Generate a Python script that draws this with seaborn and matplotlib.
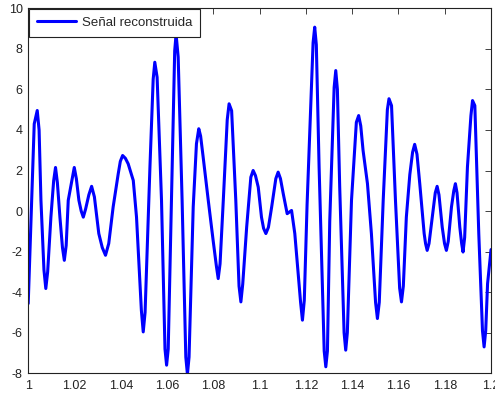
import matplotlib
matplotlib.use("Agg")
import matplotlib.pyplot as plt
import seaborn as sns
import pandas as pd
from matplotlib.ticker import FuncFormatter

t = [1.0000, 1.0015, 1.0026, 1.0039, 1.0047, 1.0055, 1.0068, 1.0076, 1.0084, 1.0098,
     1.0110, 1.0118, 1.0126, 1.0137, 1.0148, 1.0156, 1.0164, 1.0173, 1.0190, 1.0199,
     1.0208, 1.0219, 1.0229, 1.0238, 1.0248, 1.0262, 1.0274, 1.0286, 1.0305, 1.0320,
     1.0334, 1.0348, 1.0367, 1.0389, 1.0398, 1.0408, 1.0420, 1.0432, 1.0454, 1.0468,
     1.0489, 1.0497, 1.0505, 1.0526, 1.0540, 1.0547, 1.0557, 1.0576, 1.0591, 1.0598,
     1.0605, 1.0619, 1.0633, 1.0639, 1.0648, 1.0665, 1.0681, 1.0688, 1.0695, 1.0713,
     1.0727, 1.0737, 1.0745, 1.0756, 1.0778, 1.0799, 1.0813, 1.0821, 1.0829, 1.0843,
     1.0860, 1.0868, 1.0879, 1.0897, 1.0911, 1.0919, 1.0927, 1.0944, 1.0962, 1.0972,
     1.0982, 1.0994, 1.1008, 1.1017, 1.1027, 1.1038, 1.1052, 1.1070, 1.1080, 1.1090,
     1.1102, 1.1119, 1.1138, 1.1152, 1.1177, 1.1185, 1.1193, 1.1205, 1.1231, 1.1238,
     1.1245, 1.1257, 1.1279, 1.1286, 1.1293, 1.1303, 1.1322, 1.1329, 1.1336, 1.1346,
     1.1365, 1.1372, 1.1379, 1.1397, 1.1418, 1.1428, 1.1437, 1.1447, 1.1466, 1.1483,
     1.1501, 1.1509, 1.1517, 1.1534, 1.1552, 1.1559, 1.1570, 1.1587, 1.1605, 1.1613,
     1.1621, 1.1634, 1.1649, 1.1661, 1.1670, 1.1680, 1.1692, 1.1711, 1.1717, 1.1724,
     1.1732, 1.1746, 1.1759, 1.1767, 1.1775, 1.1789, 1.1799, 1.1807, 1.1815, 1.1829,
     1.1839, 1.1846, 1.1853, 1.1865, 1.1873, 1.1879, 1.1886, 1.1898, 1.1913, 1.1920,
     1.1930, 1.1947, 1.1963, 1.1970, 1.1977, 1.1985, 1.2000]
senal = [-4.56, 0.50, 4.30, 4.96, 4.00, 0.53, -2.90, -3.82, -3.00, -0.30,
         1.50, 2.15, 1.40, -0.30, -1.80, -2.43, -1.70, 0.53, 1.60, 2.15,
         1.60, 0.53, 0.00, -0.30, 0.10, 0.80, 1.22, 0.70, -1.11, -1.80,
         -2.18, -1.60, 0.20, 1.84, 2.45, 2.74, 2.60, 2.33, 1.51, -0.30,
         -4.90, -5.96, -5.00, 2.17, 6.50, 7.34, 6.60, 0.53, -6.80, -7.60,
         -6.80, 0.53, 7.90, 8.72, 7.60, 0.53, -7.20, -8.05, -7.20, 0.20,
         3.32, 4.06, 3.70, 2.66, 0.53, -1.44, -2.70, -3.33, -2.60, 0.53,
         4.50, 5.29, 4.95, 0.53, -3.70, -4.48, -3.60, -0.79, 1.67, 2.00,
         1.75, 1.18, -0.30, -0.85, -1.11, -0.80, 0.20, 1.60, 1.92, 1.60,
         0.86, -0.13, 0.03, -1.11, -4.50, -5.38, -4.40, 0.30, 8.30, 9.07,
         8.20, 2.17, -6.90, -7.68, -6.90, -0.50, 6.10, 6.93, 6.00, 1.20,
         -6.00, -6.86, -6.00, 0.53, 4.38, 4.71, 4.20, 2.99, 1.35, -1.11,
         -4.50, -5.30, -4.50, 0.53, 5.00, 5.54, 5.20, 0.53, -3.80, -4.48,
         -3.70, -0.30, 1.80, 2.90, 3.29, 2.80, 1.35, -1.11, -1.60, -1.94,
         -1.60, -0.30, 0.90, 1.22, 0.80, -0.79, -1.60, -1.94, -1.50, 0.20,
         1.00, 1.35, 0.90, -0.79, -1.60, -2.02, -1.30, 2.17, 4.70, 5.45,
         5.20, -1.11, -5.90, -6.70, -5.90, -3.58, -1.90]
label = "Señal reconstruida"
xticks = [1.0, 1.02, 1.04, 1.06, 1.08, 1.1, 1.12, 1.14, 1.16, 1.18, 1.2]
yticks = [-8, -6, -4, -2, 0, 2, 4, 6, 8, 10]

sns.set_style("white")
plt.rcParams["font.family"] = ["Liberation Sans", "DejaVu Sans"]

df = pd.DataFrame({"t": t, "y": senal, "serie": label})

fig = plt.figure(figsize=(4.95, 3.95), dpi=100)
ax = fig.add_axes([0.057, 0.055, 0.935, 0.924])
sns.lineplot(data=df, x="t", y="y", hue="serie", palette=["#0000ff"],
             linewidth=2.2, ax=ax, sort=False)
ax.set_xlim(1.0, 1.2)
ax.set_ylim(-8, 10)
ax.set_xticks(xticks)
ax.set_yticks(yticks)
ax.xaxis.set_major_formatter(FuncFormatter(lambda v, p: "%g" % round(v, 4)))
ax.yaxis.set_major_formatter(FuncFormatter(lambda v, p: "%g" % v))
ax.tick_params(direction="in", length=4, width=0.6, top=True, right=True,
               labelsize=9, colors="#222222", pad=4)
ax.tick_params(axis="x", pad=5)
for s in ax.spines.values():
    s.set_visible(True)
    s.set_color("#222222")
    s.set_linewidth(0.8)
ax.set_xlabel("")
ax.set_ylabel("")
leg = ax.legend(loc="upper left", fontsize=9.5, frameon=True, fancybox=False,
                borderaxespad=0.05, handlelength=3.0, handletextpad=0.4,
                borderpad=0.6)
leg.get_frame().set_edgecolor("#222222")
leg.get_frame().set_linewidth(0.8)
leg.get_frame().set_alpha(1)
fig.savefig("out.png", dpi=100)
